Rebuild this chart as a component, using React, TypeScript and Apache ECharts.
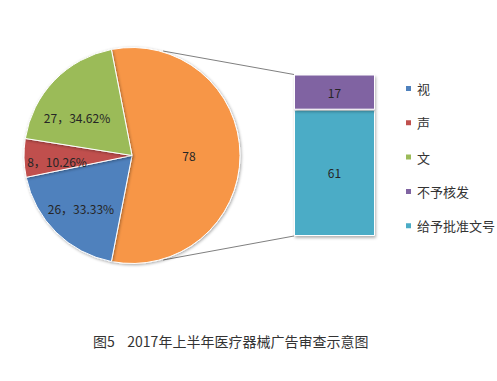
import React, { useEffect, useRef } from "react";
import * as echarts from "echarts";

const mediaCategories = ["视", "声", "文"];
const mediaValues = [26, 8, 27];
const outcomeCategories = ["不予核发", "给予批准文号"];
const outcomeValues = [17, 61];
const totalName = "合计";
const titleText = "图5    2017年上半年医疗器械广告审查示意图";

const colors: Record<string, string> = {
  视: "#4F81BD",
  声: "#C0504D",
  文: "#9BBB59",
  不予核发: "#8064A2",
  给予批准文号: "#4BACC6",
  合计: "#F79646",
};

const FONT = "'Noto Sans CJK SC', 'Noto Sans', sans-serif";

export default function App() {
  const ref = useRef<HTMLDivElement>(null);
  useEffect(() => {
    if (!ref.current) return;
    const chart = echarts.init(ref.current, undefined, { renderer: "svg" });
    const total = outcomeValues.reduce((a, b) => a + b, 0);
    const pieSum = total + mediaValues.reduce((a, b) => a + b, 0);
    const startAngle = (total / pieSum) * 180;
    const pieData = [
      { name: totalName, value: total },
      ...mediaCategories.map((n, i) => ({ name: n, value: mediaValues[i] })),
    ].map((d) => ({ ...d, itemStyle: { color: colors[d.name] } }));
    const labelShift: Record<string, [number, number]> = {
      合计: [0, 0],
      视: [-11, 12],
      声: [-18, 5],
      文: [-14, 2],
    };
    const cx = 132, cy = 155.5, r = 108;
    const gx = 294, gy = 74.5, gw = 81, gh = 161.5;
    chart.setOption({
      animation: false,
      textStyle: { fontFamily: FONT },
      title: {
        text: titleText,
        left: 93,
        top: 334,
        padding: 0,
        textStyle: { fontSize: 14, fontWeight: "normal", color: "#333", fontFamily: FONT },
      },
      legend: {
        data: [...mediaCategories, ...outcomeCategories],
        orient: "vertical",
        left: 404,
        top: 81.5,
        padding: 0,
        itemWidth: 7,
        itemHeight: 7,
        itemGap: 20.3,
        icon: "rect",
        textStyle: { fontSize: 13, color: "#333", lineHeight: 14, fontFamily: FONT },
      },
      grid: { left: gx, top: gy, width: gw, height: gh },
      xAxis: { type: "category", data: [totalName], show: false },
      yAxis: { type: "value", min: 0, max: total, show: false },
      graphic: [
        { type: "line", shape: { x1: 163, y1: 51, x2: gx, y2: gy }, style: { stroke: "#808080", lineWidth: 1 }, z: 0 },
        { type: "line", shape: { x1: 163, y1: 260, x2: gx, y2: gy + gh }, style: { stroke: "#808080", lineWidth: 1 }, z: 0 },
      ],
      series: [
        {
          type: "pie",
          center: [cx, cy],
          radius: r,
          startAngle,
          clockwise: true,
          data: pieData,
          itemStyle: {
            borderColor: "#fff",
            borderWidth: 1,
            shadowBlur: 3,
            shadowColor: "rgba(0,0,0,0.35)",
            shadowOffsetX: 1,
            shadowOffsetY: 1,
          },
          label: {
            position: "inside",
            fontSize: 12,
            color: "#262626",
            fontFamily: FONT,
            formatter: (p: any) =>
              p.name === totalName
                ? String(p.value)
                : `${p.value}，${((p.value / total) * 100).toFixed(2)}%`,
          },
          labelLayout: (p: any) => {
            const name = pieData[p.dataIndex].name;
            const s = labelShift[name] || [0, 0];
            return { dx: s[0], dy: s[1] };
          },
          labelLine: { show: false },
          emphasis: { disabled: true },
        },
        ...[...outcomeCategories].reverse().map((n) => ({
          type: "bar",
          name: n,
          stack: "total",
          barWidth: "100%",
          data: [outcomeValues[outcomeCategories.indexOf(n)]],
          itemStyle: {
            color: colors[n],
            borderColor: "#fff",
            borderWidth: 1,
            shadowBlur: 3,
            shadowColor: "rgba(0,0,0,0.3)",
            shadowOffsetX: 1,
            shadowOffsetY: 2,
          },
          label: { show: true, position: "inside", fontSize: 12, color: "#262626", fontFamily: FONT },
          emphasis: { disabled: true },
        })),
      ],
    });
    return () => chart.dispose();
  }, []);
  return (
    <div
      ref={ref}
      style={{ position: "fixed", left: 0, top: 0, width: 497, height: 381, background: "#fff" }}
    />
  );
}
